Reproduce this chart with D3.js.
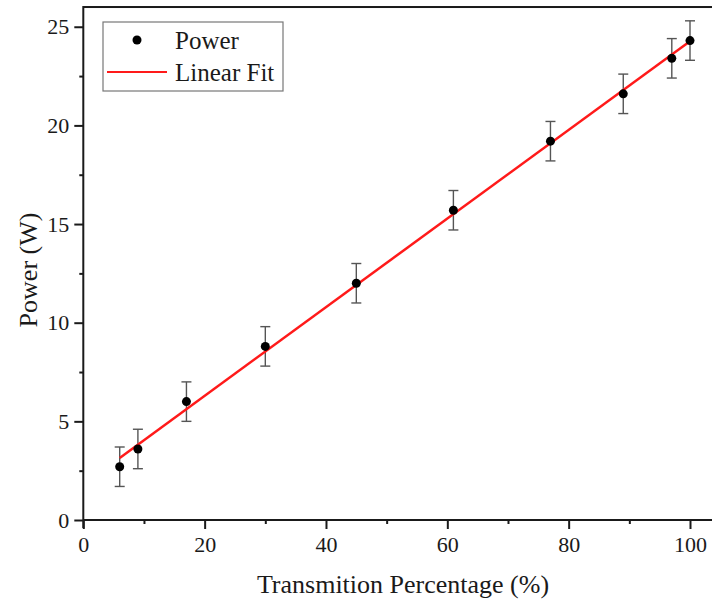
<!DOCTYPE html>
<html>
<head>
<meta charset="utf-8">
<script src="https://cdn.jsdelivr.net/npm/d3@7"></script>
<style>
  html, body { margin: 0; padding: 0; background: #fff; }
  svg { display: block; }
  text { font-family: "Liberation Serif", "Times New Roman", serif; fill: #1a1a1a; }
</style>
</head>
<body>
<svg id="chart" width="712" height="605"></svg>
<script>
// ---- data ----
const transmission = [6, 9, 17, 30, 45, 61, 77, 89, 97, 100];
const power = [2.7, 3.6, 6.0, 8.8, 12.0, 15.7, 19.2, 21.6, 23.4, 24.3];
const powerError = [1, 1, 1, 1, 1, 1, 1, 1, 1, 1];
const xTicks = [0, 20, 40, 60, 80, 100];
const yTicks = [0, 5, 10, 15, 20, 25];
const xTitle = "Transmition Percentage (%)";
const yTitle = "Power (W)";
const legendLabels = ["Power", "Linear Fit"];

// linear least-squares fit of the points
const n = transmission.length;
const mx = d3.mean(transmission), my = d3.mean(power);
const slope = d3.sum(transmission, (x, i) => (x - mx) * (power[i] - my)) /
              d3.sum(transmission, x => (x - mx) * (x - mx));
const intercept = my - slope * mx;
const fitX = [d3.min(transmission), d3.max(transmission)];

// ---- layout ----
const svg = d3.select("#chart");
const x0 = 83.3, y0 = 520, pxPerX = 6.067;
const x = d3.scaleLinear().domain([0, 105]).range([x0, x0 + 105 * pxPerX]);
const y = d3.scaleLinear().domain([0, 26]).range([y0, y0 - 26 * 19.73]);

const axisColor = "#1a1a1a";

// frame (top line; right side lies beyond the image)
svg.append("rect")
  .attr("x", x(0)).attr("y", y(26))
  .attr("width", x(105) - x(0)).attr("height", y(0) - y(26))
  .attr("fill", "none").attr("stroke", axisColor).attr("stroke-width", 2);

// x axis
const xAxis = d3.axisBottom(x).tickValues(xTicks).tickSize(9).tickSizeOuter(0).tickPadding(7);
const gx = svg.append("g").attr("transform", `translate(0,${y0})`).call(xAxis);
gx.select(".domain").remove();
gx.selectAll(".tick line").attr("stroke", axisColor).attr("stroke-width", 2);
gx.selectAll(".tick text").attr("font-size", 22).attr("font-family", "Liberation Serif").attr("fill", "#1a1a1a").attr("dy", "0.71em");
const xMinor = d3.axisBottom(x).tickValues(d3.range(10, 105, 20)).tickSize(4).tickFormat("");
const gxm = svg.append("g").attr("transform", `translate(0,${y0})`).call(xMinor);
gxm.select(".domain").remove();
gxm.selectAll(".tick line").attr("stroke", axisColor).attr("stroke-width", 2);

// y axis
const yAxis = d3.axisLeft(y).tickValues(yTicks).tickSize(9).tickSizeOuter(0).tickPadding(5);
const gy = svg.append("g").attr("transform", `translate(${x0},0)`).call(yAxis);
gy.select(".domain").remove();
gy.selectAll(".tick line").attr("stroke", axisColor).attr("stroke-width", 2);
gy.selectAll(".tick text").attr("font-size", 22).attr("font-family", "Liberation Serif").attr("fill", "#1a1a1a");
const yMinor = d3.axisLeft(y).tickValues(d3.range(2.5, 26, 5)).tickSize(4).tickFormat("");
const gym = svg.append("g").attr("transform", `translate(${x0},0)`).call(yMinor);
gym.select(".domain").remove();
gym.selectAll(".tick line").attr("stroke", axisColor).attr("stroke-width", 2);

// small extension of the y axis below origin
svg.append("line").attr("x1", x0).attr("x2", x0).attr("y1", y0).attr("y2", y0 + 8)
  .attr("stroke", axisColor).attr("stroke-width", 2);

// axis titles
svg.append("text").attr("x", 403).attr("y", 593).attr("text-anchor", "middle")
  .attr("font-size", 26).text(xTitle);
svg.append("text").attr("transform", "translate(37,270) rotate(-90)")
  .attr("text-anchor", "middle").attr("font-size", 26).text(yTitle);

// error bars
const eb = svg.append("g").attr("stroke", "#555").attr("stroke-width", 1.4);
transmission.forEach((tx, i) => {
  const cx = x(tx), top = y(power[i] + powerError[i]), bot = y(power[i] - powerError[i]);
  eb.append("line").attr("x1", cx).attr("x2", cx).attr("y1", top).attr("y2", bot);
  eb.append("line").attr("x1", cx - 5).attr("x2", cx + 5).attr("y1", top).attr("y2", top);
  eb.append("line").attr("x1", cx - 5).attr("x2", cx + 5).attr("y1", bot).attr("y2", bot);
});

// fit line
svg.append("path")
  .datum(fitX)
  .attr("d", d3.line().x(d => x(d)).y(d => y(intercept + slope * d)))
  .attr("stroke", "#ff1a1a").attr("stroke-width", 2.5).attr("fill", "none");

// points
svg.append("g").selectAll("circle").data(transmission).join("circle")
  .attr("cx", d => x(d)).attr("cy", (d, i) => y(power[i])).attr("r", 4.5).attr("fill", "#000");

// legend
const lg = svg.append("g");
lg.append("rect").attr("x", 103).attr("y", 22).attr("width", 180).attr("height", 69)
  .attr("fill", "#fff").attr("stroke", "#777").attr("stroke-width", 1.2);
lg.append("circle").attr("cx", 137).attr("cy", 40).attr("r", 4.5).attr("fill", "#000");
lg.append("line").attr("x1", 107).attr("x2", 167).attr("y1", 72).attr("y2", 72)
  .attr("stroke", "#ff1a1a").attr("stroke-width", 2);
lg.append("text").attr("x", 175).attr("y", 49).attr("font-size", 25).text(legendLabels[0]);
lg.append("text").attr("x", 175).attr("y", 81).attr("font-size", 25).text(legendLabels[1]);
</script>
</body>
</html>
